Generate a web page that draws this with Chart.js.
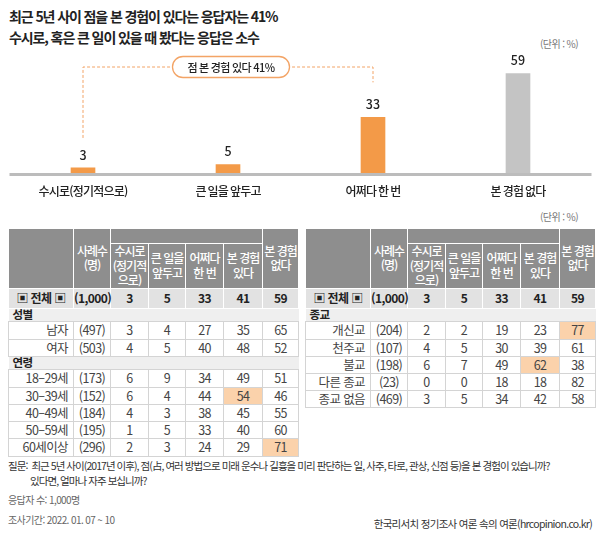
<!DOCTYPE html>
<html lang="ko">
<head>
<meta charset="utf-8">
<script src="https://cdn.jsdelivr.net/npm/chart.js@4.4.1/dist/chart.umd.min.js"></script>
<style>
body { margin: 0; background: #fff; font-family: "Noto Sans CJK KR", "Noto Sans", sans-serif; color: #222; }
#page { position: relative; width: 600px; height: 541px; overflow: hidden; background: #fff; }
.title { position: absolute; left: 9px; top: 6px; font-size: 14px; font-weight: 700; line-height: 21px; letter-spacing: -1.1px; color: #222; white-space: nowrap; }
.unit { position: absolute; font-size: 10px; color: #777; letter-spacing: -0.6px; white-space: nowrap; }
#chartBox { position: absolute; left: 0; top: 50px; width: 600px; height: 155px; }
table { position: absolute; top: 228px; border-collapse: collapse; table-layout: fixed; font-size: 12.5px; }
th { background: #8e8e8e; color: #fff; font-weight: 500; font-size: 12px; border: 1px solid #fff; line-height: 14.5px; letter-spacing: -1px; padding: 0; vertical-align: middle; }
td { padding: 0; text-align: center; color: #444; border: 1px solid #d4d4d4; letter-spacing: -0.6px; font-weight: 400; line-height: 14px; }
tr.total td { background: #e2e2e2; color: #222; font-weight: 700; border: 1px solid #fff; font-size: 12px; }
tr.section td { background: #efefef; color: #222; font-weight: 700; text-align: left; padding-left: 4px; border-left: none; border-right: none; font-size: 11.5px; line-height: 11px; }
td.label { text-align: right; padding-right: 5px; }
tr.total td.label { text-align: center; padding-right: 0; }
td.hl { background: #fbd2ab; }
.foot { position: absolute; font-size: 10.5px; color: #333; letter-spacing: -0.95px; white-space: nowrap; }
.small { color: #666; font-size: 10px; letter-spacing: -0.6px; }
</style>
</head>
<body>
<div id="page">
  <div class="title">최근 5년 사이 점을 본 경험이 있다는 응답자는 41%<br>수시로, 혹은 큰 일이 있을 때 봤다는 응답은 소수</div>
  <div class="unit" style="left:540px;top:36px;">(단위 : %)</div>
  <div id="chartBox"><canvas id="chart" width="600" height="155"></canvas></div>
  <div class="unit" style="left:540px;top:209px;">(단위 : %)</div>
  <table id="leftTable" style="left:8px;width:290px;"></table>
  <table id="rightTable" style="left:305px;width:290px;"></table>
  <div class="foot" style="left:8px;top:458px;">질문:&nbsp; 최근 5년 사이(2017년 이후), 점(占, 여러 방법으로 미래 운수나 길흉을 미리 판단하는 일, 사주, 타로, 관상, 신점 등)을 본 경험이 있습니까?</div>
  <div class="foot" style="left:30px;top:473px;">있다면, 얼마나 자주 보십니까?</div>
  <div class="foot small" style="left:8px;top:492px;">응답자 수: 1,000명</div>
  <div class="foot small" style="left:8px;top:512px;">조사기간: 2022. 01. 07 ~ 10</div>
  <div class="foot" style="right:8px;top:516px;letter-spacing:-0.7px;font-size:10.5px;">한국리서치 정기조사 여론 속의 여론(hrcopinion.co.kr)</div>
</div>
<script>
// Bar chart data
const categories = ['수시로(정기적으로)', '큰 일을 앞두고', '어쩌다 한 번', '본 경험 없다'];
const values = [3, 5, 33, 59];
const bracketLabel = '점 본 경험 있다 41%';
const bracketFrom = 0;
const bracketTo = 2;

// Table data
const headLabels = ['사례수\n(명)', '수시로\n(정기적\n으로)', '큰 일을\n앞두고', '어쩌다\n한 번', '본 경험\n있다', '본 경험\n없다'];
const totalLabel = '▣ 전체 ▣';
const totalCount = '(1,000)';
const totalValues = [3, 5, 33, 41, 59];

const genderLabels = ['남자', '여자'];
const genderCounts = ['(497)', '(503)'];
const genderValues = [[3, 4, 27, 35, 65], [4, 5, 40, 48, 52]];

const ageLabels = ['18–29세', '30–39세', '40–49세', '50–59세', '60세이상'];
const ageCounts = ['(173)', '(152)', '(184)', '(195)', '(296)'];
const ageValues = [[6, 9, 34, 49, 51], [6, 4, 44, 54, 46], [4, 3, 38, 45, 55], [1, 5, 33, 40, 60], [2, 3, 24, 29, 71]];

const religionLabels = ['개신교', '천주교', '불교', '다른 종교', '종교 없음'];
const religionCounts = ['(204)', '(107)', '(198)', '(23)', '(469)'];
const religionValues = [[2, 2, 19, 23, 77], [4, 5, 30, 39, 61], [6, 7, 49, 62, 38], [0, 0, 18, 18, 82], [3, 5, 34, 42, 58]];

// highlighted cells: [row index, value index]
const ageHighlights = [[1, 3], [4, 4]];
const religionHighlights = [[0, 4], [2, 3]];

// Colours
const ORANGE = '#f39a48';
const GRAY = '#c4c4c4';
const BASE = '#bcbcbc';
const DASH = '#f3a466';

const decor = {
  id: 'decor',
  afterDatasetsDraw(chart) {
    const { ctx, chartArea, scales } = chart;
    const x = scales.x;
    const y = scales.y;
    ctx.save();

    // baseline
    ctx.fillStyle = BASE;
    ctx.fillRect(chartArea.left - 1, chartArea.bottom, chartArea.right - chartArea.left + 2, 3);

    // value labels
    ctx.fillStyle = '#222';
    ctx.textAlign = 'center';
    ctx.textBaseline = 'middle';
    ctx.font = '500 12.5px "Noto Sans CJK KR"';
    values.forEach((v, i) => {
      ctx.fillText(String(v), x.getPixelForValue(i), y.getPixelForValue(v) - 13);
    });

    // category labels
    ctx.font = '500 12px "Noto Sans CJK KR"';
    ctx.letterSpacing = '-0.8px';
    categories.forEach((c, i) => {
      ctx.fillText(c, x.getPixelForValue(i), chartArea.bottom + 18);
    });

    // dashed bracket over the "seen" bars
    const x0 = x.getPixelForValue(bracketFrom);
    const x1 = x.getPixelForValue(bracketTo);
    const top = 17;
    ctx.strokeStyle = DASH;
    ctx.lineWidth = 1;
    ctx.setLineDash([3, 2]);
    ctx.beginPath();
    ctx.moveTo(x0, y.getPixelForValue(values[bracketFrom]) - 30);
    ctx.lineTo(x0, top);
    ctx.lineTo(x1, top);
    ctx.lineTo(x1, y.getPixelForValue(values[bracketTo]) - 35);
    ctx.stroke();

    // rounded label box
    const cx = (x0 + x1) / 2 + 3;
    const bw = 117, bh = 21;
    ctx.setLineDash([]);
    ctx.fillStyle = '#fff';
    ctx.strokeStyle = DASH;
    ctx.lineWidth = 1.3;
    ctx.beginPath();
    ctx.roundRect(cx - bw / 2, top - bh / 2, bw, bh, bh / 2);
    ctx.fill();
    ctx.stroke();
    ctx.fillStyle = '#222';
    ctx.font = '500 11px "Noto Sans CJK KR"';
    ctx.letterSpacing = '-0.5px';
    ctx.fillText(bracketLabel, cx, top + 1);
    ctx.restore();
  }
};

new Chart(document.getElementById('chart'), {
  type: 'bar',
  data: {
    labels: categories,
    datasets: [{
      data: values,
      backgroundColor: [ORANGE, ORANGE, ORANGE, GRAY],
      borderWidth: 0,
      barThickness: 24
    }]
  },
  options: {
    responsive: false,
    animation: false,
    layout: { padding: { left: 10.5, right: 9.5, top: 5, bottom: 32 } },
    scales: {
      x: { display: false },
      y: { display: false, min: 0, max: 70 }
    },
    plugins: { legend: { display: false }, tooltip: { enabled: false } }
  },
  plugins: [decor]
});

// Build the two tables
const colWidths = [65, 37, 38, 37, 38, 39, 36];

function buildHead(table) {
  const cg = document.createElement('colgroup');
  colWidths.forEach(w => {
    const c = document.createElement('col');
    c.style.width = w + 'px';
    cg.appendChild(c);
  });
  table.appendChild(cg);

  const r1 = document.createElement('tr');
  r1.style.height = '15px';
  const r2 = document.createElement('tr');
  r2.style.height = '44px';
  const th = (text, rows, cols) => {
    const cell = document.createElement('th');
    if (rows) cell.rowSpan = rows;
    if (cols) cell.colSpan = cols;
    cell.innerHTML = text.replace(/\n/g, '<br>');
    return cell;
  };
  r1.appendChild(th('', 2));
  r1.appendChild(th(headLabels[0], 2));
  r1.appendChild(th('', 0, 4));
  r1.appendChild(th(headLabels[5], 2));
  for (let i = 1; i <= 4; i++) r2.appendChild(th(headLabels[i]));
  table.appendChild(r1);
  table.appendChild(r2);
}

function addRow(table, cls, label, count, vals, hlCols, height) {
  const tr = document.createElement('tr');
  if (cls) tr.className = cls;
  tr.style.height = height + 'px';
  const l = document.createElement('td');
  l.className = 'label';
  l.textContent = label;
  tr.appendChild(l);
  const n = document.createElement('td');
  n.textContent = count;
  tr.appendChild(n);
  vals.forEach((v, i) => {
    const td = document.createElement('td');
    td.textContent = v;
    if (hlCols.includes(i)) td.className = 'hl';
    tr.appendChild(td);
  });
  table.appendChild(tr);
}

function addSection(table, label) {
  const tr = document.createElement('tr');
  tr.className = 'section';
  tr.style.height = '13px';
  const td = document.createElement('td');
  td.colSpan = 7;
  td.textContent = label;
  tr.appendChild(td);
  table.appendChild(tr);
}

function addGroup(table, labels, counts, valueRows, highlights, heights) {
  labels.forEach((lab, r) => {
    const hl = highlights.filter(h => h[0] === r).map(h => h[1]);
    addRow(table, '', lab, counts[r], valueRows[r], hl, heights[r]);
  });
}

const left = document.getElementById('leftTable');
buildHead(left);
addRow(left, 'total', totalLabel, totalCount, totalValues, [], 20);
addSection(left, '성별');
addGroup(left, genderLabels, genderCounts, genderValues, [], [18, 17]);
addSection(left, '연령');
addGroup(left, ageLabels, ageCounts, ageValues, ageHighlights, [18, 17, 17, 17, 18]);

const right = document.getElementById('rightTable');
buildHead(right);
addRow(right, 'total', totalLabel, totalCount, totalValues, [], 20);
addSection(right, '종교');
addGroup(right, religionLabels, religionCounts, religionValues, religionHighlights, [18, 17, 17, 17, 17]);
</script>
</body>
</html>
